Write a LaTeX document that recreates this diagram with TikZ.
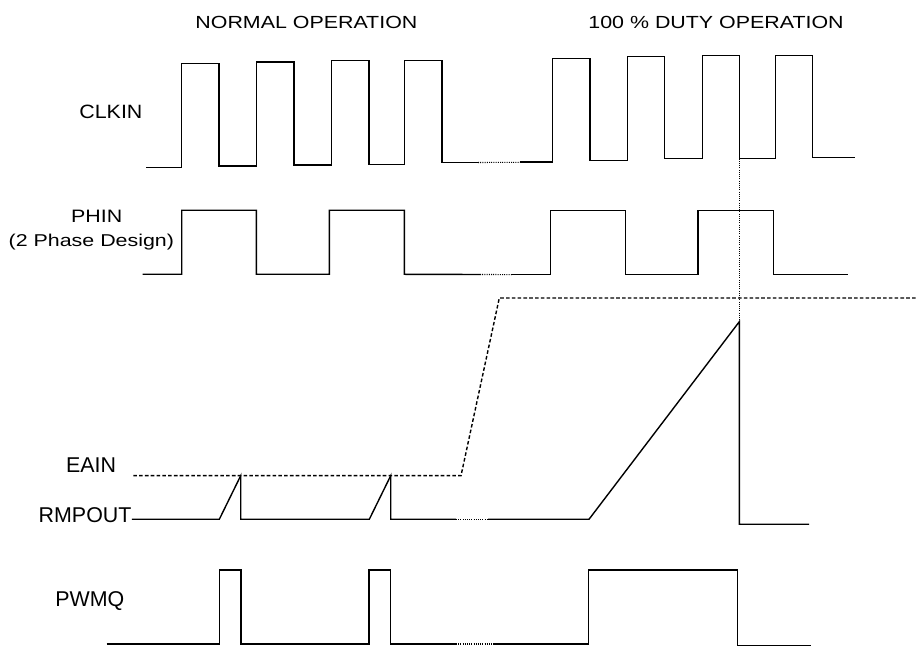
\documentclass[tikz,border=0pt]{standalone}
\usepackage{fontspec}
\setmainfont{Liberation Sans}
\usetikzlibrary{positioning}

\newcommand{\squash}[2]{\scalebox{1}[#1]{#2}}
\tikzset{
	wave/.style={line width=0.7pt, line join=miter},
	gap/.style={line width=0.55pt, dash pattern=on 0.5pt off 0.6pt},
	thresh/.style={line width=0.7pt, dash pattern=on 1.8pt off 1.1pt},
	lbl/.style={anchor=base west, inner sep=0pt, font=\fontsize{10.7}{13}\selectfont}
}

\begin{document}
\begin{tikzpicture}[x=0.5pt,y=-0.5pt]
		\useasboundingbox (0,0) rectangle (916,646);
		
		% Headings
		\node[lbl] (normal) at (195,28.3) {\squash{0.82}{NORMAL OPERATION}};
		\node[lbl] (duty) at (588,28.3) {\squash{0.82}{100 \% DUTY OPERATION}};
		
		% Signal names
		\node[lbl] (clkin) at (79,118.3) {\squash{0.9}{CLKIN}};
		\node[lbl] (phin) at (70.7,222.7) {\squash{0.84}{PHIN}};
		\node[lbl] (phase) at (8.3,247) {\squash{0.8}{(2 Phase Design)}};
		\node[lbl] (eain) at (65.7,472.3) {EAIN};
		\node[lbl] (rmpout) at (38.3,522.7) {RMPOUT};
		\node[lbl] (pwmq) at (55,606) {PWMQ};
		
		% CLKIN
		\draw[wave] (146,167.3) -- (181.7,167.3) -- (181.7,63.3) -- (219,63.3) -- (219,166) -- (256.3,166) -- (256.3,62) -- (294,62) -- (294,165) -- (331.3,165) -- (331.3,60.3) -- (369,60.3) -- (369,164.3) -- (404.7,164.3) -- (404.7,60.3) -- (442,60.3) -- (442,162.7) -- (478,162.7);
		\draw[gap] (478,162.5) -- (520,162.3);
		\draw[wave] (520,162) -- (552.7,162) -- (552.7,58.7) -- (590,58.7) -- (590,160.7) -- (627.3,160.7) -- (627.3,56.7) -- (664.7,56.7) -- (664.7,158.7) -- (702.3,158.7) -- (702.3,55.3) -- (739.3,55.3) -- (739.3,158.7) -- (775.3,158.7) -- (775.3,55.3) -- (812.7,55.3) -- (812.7,157.3) -- (855,157.3);
		
		% PHIN
		\draw[wave] (142.7,274.3) -- (181.7,274.3) -- (181.7,210.3) -- (256.3,210.3) -- (256.3,274.3) -- (329.3,274.3) -- (329.3,210.3) -- (404.3,210.3) -- (404.3,274.3) -- (480,274.5);
		\draw[gap] (480,274.5) -- (512,274.6);
		\draw[wave] (512,274.7) -- (550.7,274.7) -- (550.7,210.3) -- (625.7,210.3) -- (625.7,274.7) -- (698,274.7) -- (698,210.3) -- (773.3,210.3) -- (773.3,274.7) -- (848.3,274.7);
		
		% marker at the end of the duty cycle
		\draw[gap] (739.3,158.7) -- (739.3,321.7);
		
		% EAIN
		\draw[thresh] (133.3,475.7) -- (461,475.7) -- (499.3,298) -- (916,298);
		
		% RMPOUT
		\draw[wave] (rmpout.base east) ++(0,-3.4) -- (219.3,519.3) -- (240.7,475.7) -- (240.7,519.3) -- (369.3,519.3) -- (390.7,475.7) -- (390.7,519.3) -- (456,519.3);
		\draw[gap] (456,519.3) -- (488,519.3);
		\draw[wave] (488,519.3) -- (589,519.3) -- (739.3,321.7) -- (739.3,524.3) -- (809,524.3);
		
		% PWMQ
		\draw[wave] (106.7,644) -- (219.3,644) -- (219.3,570) -- (241,570) -- (241,644) -- (369,644) -- (369,570) -- (390.7,570) -- (390.7,644) -- (456,644);
		\draw[gap] (456,644) -- (494,644);
		\draw[wave] (494,644) -- (588.3,644) -- (588.3,570) -- (737.7,570) -- (737.7,645.3) -- (811,645.3);
		
	\end{tikzpicture}
\end{document}
